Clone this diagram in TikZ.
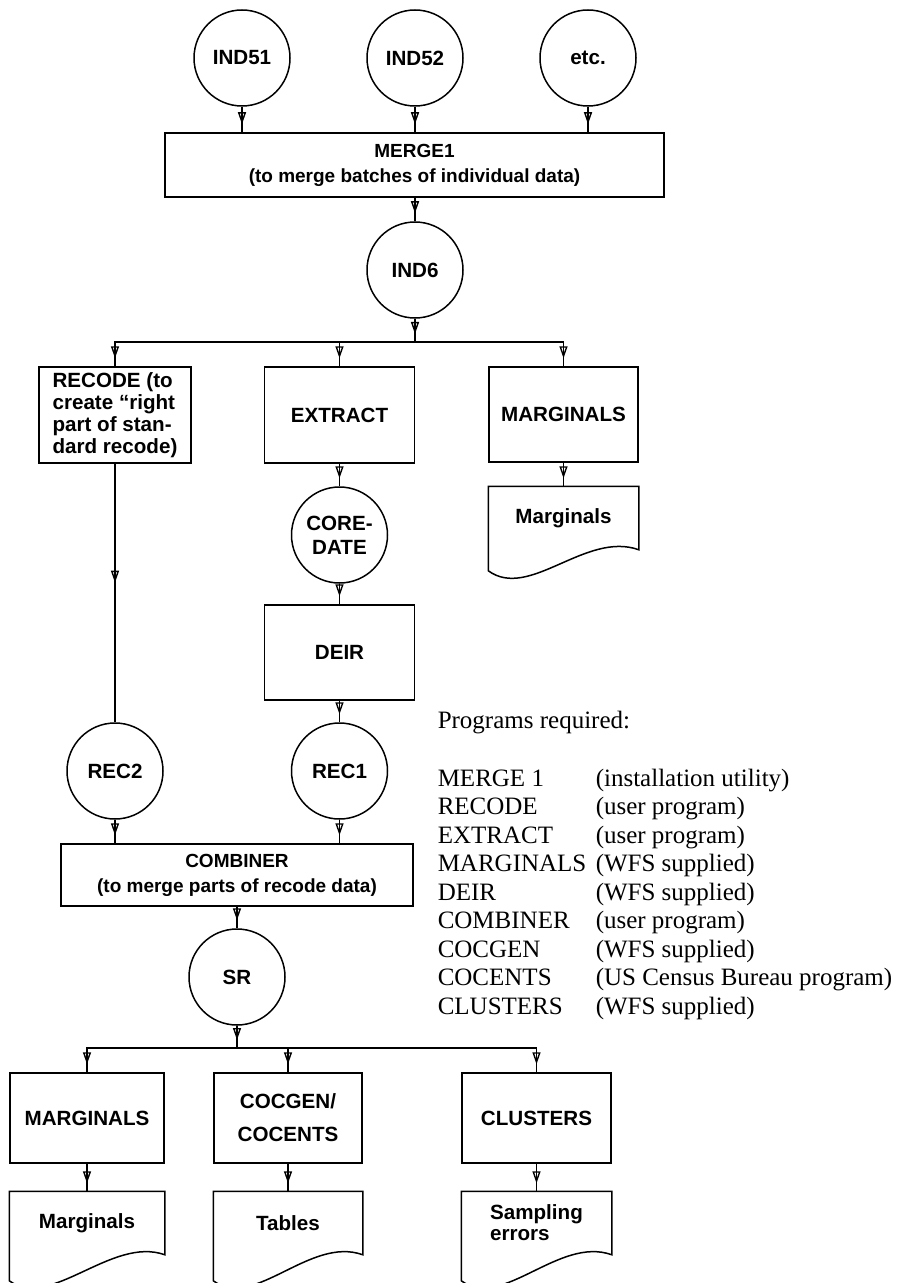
\documentclass[tikz,border=0pt]{standalone}
\usepackage{fontspec}
\setmainfont{Liberation Serif}
\setsansfont{Liberation Sans}
\usetikzlibrary{arrows.meta,decorations.markings,calc}
\newcommand\docoutline[2]{%
  \draw (#1.north west) -- (#1.north east) -- (#1.south east)
    .. controls ($(#1.south east)+(-53,-19)$) and ($(#1.south west)+(41,#2+30)$)
    .. ($(#1.south west)+(0,#2)$) -- cycle;}
\begin{document}
\begin{tikzpicture}[x=0.5pt,y=-0.5pt,line width=0.75pt,
  lab/.style={font=\sffamily\bfseries\fontsize{10.3}{12}\selectfont,align=center},
  sub/.style={font=\sffamily\bfseries\fontsize{9.5}{12.5}\selectfont,align=center},
  circ/.style={lab,draw,circle,minimum size=48pt,inner sep=0pt},
  proc/.style={lab,draw,rectangle,inner sep=0pt},
  doc/.style={lab,rectangle,inner sep=0pt,minimum height=31pt},
  tip/.style={},
  arr/.style={postaction={decorate},decoration={markings,mark=at position -4pt with {\arrow{Triangle[open,length=6pt,width=4pt,line width=0.7pt]}}}},
  midarr/.style={postaction={decorate},decoration={markings,mark=at position 0.46 with {\arrow{Triangle[open,length=6pt,width=4pt,line width=0.7pt]}}}},
  leg/.style={font=\fontsize{12.5}{14}\selectfont,anchor=base west,inner sep=0pt}]
\useasboundingbox (0,0) rectangle (906,1283);

% top inputs
\node[circ] (ind51) at (242,58) {IND51};
\node[circ] (ind52) at (415,58) {IND52};
\node[circ] (etc) at (588,58) {etc.};
\node[proc,sub,minimum width=249.5pt,minimum height=32pt] (merge) at (414.5,165) {MERGE1\\(to merge batches of individual data)};
\node[circ] (ind6) at (415,270) {IND6};

% middle row
\node[proc,align=left,font=\sffamily\bfseries\fontsize{10.3}{11}\selectfont,minimum width=76pt,minimum height=48pt] (recode) at (115,415) {RECODE (to\\create “right\\part of stan-\\dard recode)};
\node[proc,minimum width=75pt,minimum height=48pt] (extract) at (339.5,415) {EXTRACT};
\node[proc,minimum width=74.5pt,minimum height=47.5pt] (marg1) at (563.5,414.5) {MARGINALS};
\node[doc,minimum width=74.5pt] (mdoc1) at (563.5,518) {Marginals};
\docoutline{mdoc1}{21}

\node[circ] (coredate) at (339.5,535) {CORE-\\DATE};
\node[proc,minimum width=75pt,minimum height=47.5pt] (deir) at (339.5,652.5) {DEIR};
\node[circ] (rec2) at (115,771) {REC2};
\node[circ] (rec1) at (339.5,771) {REC1};
\node[proc,sub,minimum width=176pt,minimum height=31pt] (combiner) at (237,875) {COMBINER\\(to merge parts of recode data)};
\node[circ] (sr) at (237,977) {SR};

% bottom row
\node[proc,minimum width=77pt,minimum height=45pt] (marg2) at (87,1118) {MARGINALS};
\node[proc,font=\sffamily\bfseries\fontsize{10.3}{16.5}\selectfont,minimum width=74pt,minimum height=45pt] (cocgen) at (288,1118) {COCGEN/\\COCENTS};
\node[proc,minimum width=74.5pt,minimum height=45pt] (clusters) at (536.5,1118) {CLUSTERS};
\node[doc,minimum width=77pt] (mdoc2) at (87,1223) {Marginals};
\node[doc,minimum width=74pt] (tdoc) at (288,1223) {Tables};
\node[doc,align=left,font=\sffamily\bfseries\fontsize{10.3}{10.5}\selectfont,minimum width=74.5pt] (sdoc) at (536.5,1223) {Sampling\\errors};
\docoutline{mdoc2}{26}
\docoutline{tdoc}{26}
\docoutline{sdoc}{26}

% legend
\node[leg] (lghead) at (437,728) {Programs required:};
\foreach \i/\a/\b in {0/MERGE 1/(installation utility),1/RECODE/(user program),2/EXTRACT/(user program),3/MARGINALS/(WFS supplied),4/DEIR/(WFS supplied),5/COMBINER/(user program),6/COCGEN/(WFS supplied),7/COCENTS/(US Census Bureau program),8/CLUSTERS/(WFS supplied)}{
  \node[leg] (lga\i) at (437,{786+28.5*\i}) {\a};
  \node[leg] (lgb\i) at (595,{786+28.5*\i}) {\b};
}

% connectors
\draw[arr] (ind51) -- (ind51 |- merge.north);
\draw[arr] (ind52) -- (ind52 |- merge.north);
\draw[arr] (etc) -- (etc |- merge.north);
\draw[arr] (merge.south -| ind6) -- (ind6);
\coordinate (busL) at (115,342);
\coordinate (busR) at (563.5,342);
\draw[line cap=rect] (busL) -- (busR);
\draw[arr] (ind6) -- (ind6 |- busL);
\draw[arr] (busL) -- (recode);
\draw[arr] (extract |- busL) -- (extract);
\draw[arr] (busR) -- (marg1);
\draw[arr] (marg1) -- (mdoc1);
\draw[arr] (extract) -- (coredate);
\draw[arr] (coredate) -- (deir);
\draw[arr] (deir) -- (rec1);
\draw[midarr] (recode) -- (rec2);
\draw[arr] (rec2) -- (rec2 |- combiner.north);
\draw[arr] (rec1) -- (rec1 |- combiner.north);
\draw[arr] (combiner.south -| sr) -- (sr);
\coordinate (bbL) at (87,1048);
\coordinate (bbR) at (536.5,1048);
\draw[line cap=rect] (bbL) -- (bbR);
\draw[arr] (sr) -- (sr |- bbL);
\draw[arr] (bbL) -- (marg2);
\draw[arr] (cocgen |- bbL) -- (cocgen);
\draw[arr] (bbR) -- (clusters);
\draw[arr] (marg2) -- (mdoc2);
\draw[arr] (cocgen) -- (tdoc);
\draw[arr] (clusters) -- (sdoc);
\end{tikzpicture}
\end{document}
